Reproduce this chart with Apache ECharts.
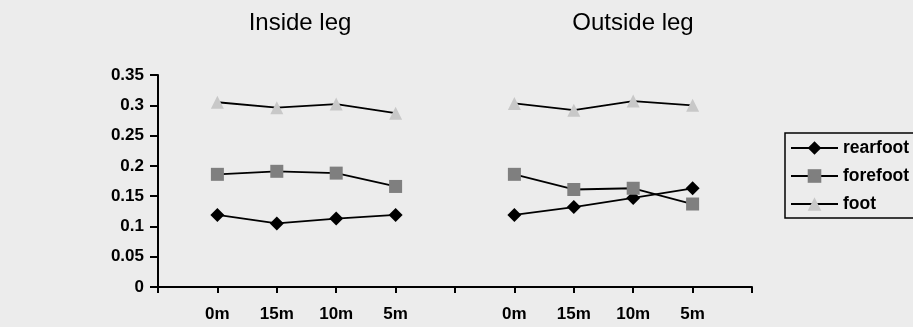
<!DOCTYPE html>
<html>
<head>
<meta charset="utf-8">
<script src="https://cdn.jsdelivr.net/npm/echarts@6/dist/echarts.min.js"></script>
<style>
  html, body { margin: 0; padding: 0; background: #ececec; }
  #chart { width: 913px; height: 327px; }
</style>
</head>
<body>
<div id="chart"></div>
<script>
// x categories: blank slots keep the two legs apart on one axis
const categories = ['', '0m', '15m', '10m', '5m', '', '0m', '15m', '10m', '5m', ''];

// Inside leg values (0m, 15m, 10m, 5m)
const insideRearfoot = [0.119, 0.105, 0.113, 0.119];
const insideForefoot = [0.186, 0.191, 0.188, 0.166];
const insideFoot = [0.305, 0.296, 0.302, 0.287];

// Outside leg values (0m, 15m, 10m, 5m)
const outsideRearfoot = [0.119, 0.132, 0.147, 0.163];
const outsideForefoot = [0.186, 0.161, 0.163, 0.137];
const outsideFoot = [0.303, 0.292, 0.307, 0.300];

const panelTitles = ['Inside leg', 'Outside leg'];

function joinLegs(inside, outside) {
    return ['-'].concat(inside, ['-'], outside, ['-']);
}

const font = 'Arial, "Liberation Sans", sans-serif';
const chart = echarts.init(document.getElementById('chart'));

function makeSeries(name, inside, outside, symbol, size, color) {
    return {
        name: name,
        type: 'line',
        data: joinLegs(inside, outside),
        symbol: symbol,
        symbolSize: size,
        showAllSymbol: true,
        itemStyle: { color: color },
        lineStyle: { color: '#000', width: 1.8 },
        emphasis: { disabled: true },
        animation: false
    };
}

const titleStyle = { fontFamily: font, fontSize: 24, fontWeight: 'normal', color: '#000' };

const option = {
    backgroundColor: '#ececec',
    title: [
        { text: panelTitles[0], left: 295, top: 6, textAlign: 'center', textStyle: titleStyle },
        { text: panelTitles[1], left: 628, top: 6, textAlign: 'center', textStyle: titleStyle }
    ],
    legend: {
        orient: 'vertical',
        left: 785,
        top: 133,
        width: 160,
        padding: [6, 40, 5, 5],
        itemGap: 10,
        itemWidth: 47,
        itemHeight: 17,
        borderColor: '#000',
        borderWidth: 1.5,
        textStyle: { fontFamily: font, fontSize: 17.5, fontWeight: 'bold', color: '#000' },
        data: ['rearfoot', 'forefoot', 'foot']
    },
    grid: { left: 158, right: 161, top: 75, bottom: 40 },
    xAxis: {
        type: 'category',
        data: categories,
        boundaryGap: false,
        axisLine: { lineStyle: { color: '#000', width: 2 } },
        axisTick: { interval: 0, length: 6, lineStyle: { color: '#000', width: 2 } },
        axisLabel: { interval: 0, margin: 19, fontFamily: font, fontSize: 17, fontWeight: 'bold', color: '#000' },
        splitLine: { show: false }
    },
    yAxis: {
        type: 'value',
        min: 0,
        max: 0.35,
        interval: 0.05,
        axisLine: { show: true, lineStyle: { color: '#000', width: 2 } },
        axisTick: { show: true, length: 8, lineStyle: { color: '#000', width: 2 } },
        axisLabel: { margin: 14, fontFamily: font, fontSize: 17, fontWeight: 'bold', color: '#000' },
        splitLine: { show: false }
    },
    series: [
        makeSeries('rearfoot', insideRearfoot, outsideRearfoot, 'diamond', 14, '#000'),
        makeSeries('forefoot', insideForefoot, outsideForefoot, 'rect', 13, '#7f7f7f'),
        makeSeries('foot', insideFoot, outsideFoot, 'triangle', 13, '#c8c8c8')
    ]
};

chart.setOption(option);
</script>
</body>
</html>
